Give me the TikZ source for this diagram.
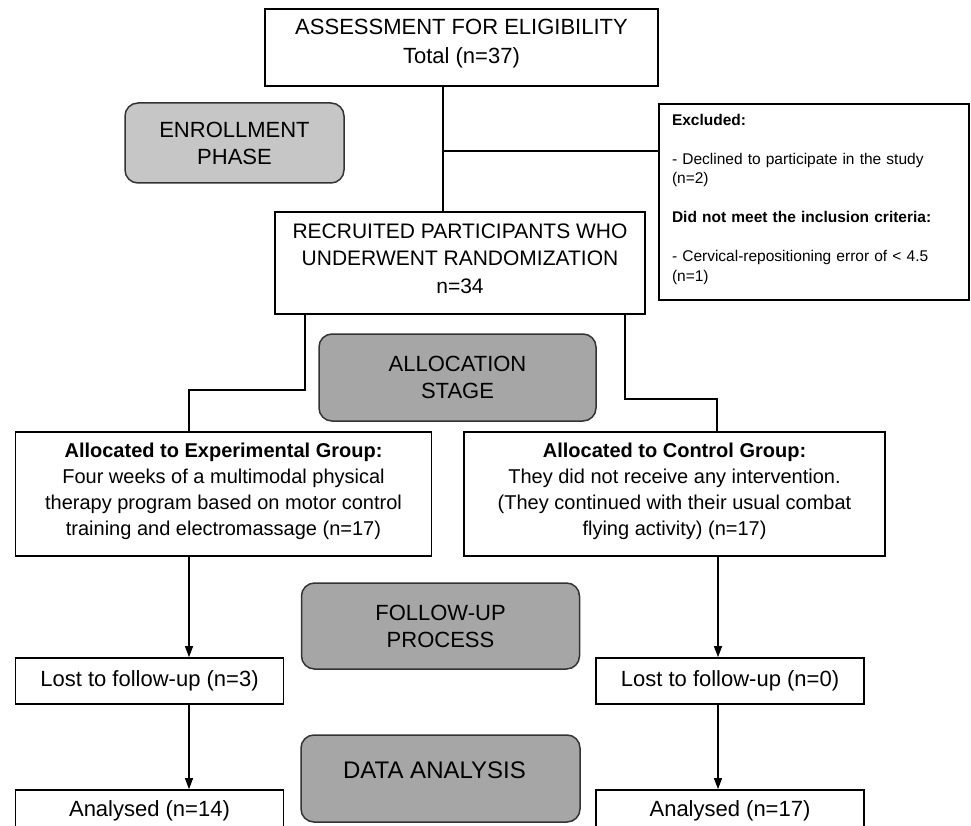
\documentclass[tikz,border=0pt]{standalone}
\usepackage{fontspec}
\setmainfont{Liberation Sans}
\usetikzlibrary{arrows.meta}
\definecolor{lightgr}{RGB}{198,198,198}
\definecolor{darkgr}{RGB}{166,166,166}
\begin{document}
\begin{tikzpicture}[x=1pt,y=-1pt,
  box/.style={draw=black, line width=1.7pt, inner sep=0pt, align=center,
    font=\fontsize{20}{26.5}\selectfont},
  big/.style={font=\fontsize{22}{27.5}\selectfont},
  txt/.style={inner sep=0pt, align=center},
  phase/.style={draw=black!80, line width=1.5pt, rounded corners=13pt, inner sep=0pt,
    align=center, fill=darkgr, font=\fontsize{22}{27}\selectfont},
  conn/.style={line width=1.2pt},
  arr/.style={line width=1.2pt, -{Triangle[length=11pt,width=8pt]}}]
\useasboundingbox (0,0) rectangle (971,826);
\clip (0,0) rectangle (971,826);
\fill[white] (0,0) rectangle (971,826);

% boxes
\node[box, minimum width=393pt, minimum height=77pt] (assess) at (461.5,47.5) {};
\node[txt, font=\fontsize{22}{29}\selectfont] (assessT) at (461.5,44)
  {ASSESSMENT FOR ELIGIBILITY\\Total (n=37)};
\node[phase, fill=lightgr, minimum width=219pt, minimum height=80pt] (enroll) at (234.5,143)
  {ENROLLMENT\\PHASE};
\node[box, line width=1.6pt, minimum width=310pt, minimum height=196pt] (excl) at (814,202) {};
\node[txt, text width=284pt, align=left, font=\fontsize{15.5}{19.5}\selectfont] (exclT) at (814,199)
  {\textbf{Excluded:}\\[19.5pt]- Declined to participate in the study\\(n=2)\\[19.5pt]
   \textbf{Did not meet the inclusion criteria:}\\[19.5pt]- Cervical-repositioning error of < 4.5\\(n=1)};
\node[box, minimum width=370pt, minimum height=102pt] (recruit) at (460,263) {};
\node[txt, font=\fontsize{21}{27.5}\selectfont] (recruitT) at (460,258.5)
  {RECRUITED PARTICIPANTS WHO\\UNDERWENT RANDOMIZATION\\n=34};
\node[phase, minimum width=277pt, minimum height=87pt] (alloc) at (457.5,377.5)
  {ALLOCATION\\STAGE};
\node[box, minimum width=416pt, minimum height=124pt] (exp) at (223.5,494) {};
\node[txt, font=\fontsize{20}{26}\selectfont] (expT) at (223.5,491.5)
  {\textbf{Allocated to Experimental Group:}\\Four weeks of a multimodal physical\\therapy program based on motor control\\training and electromassage (n=17)};
\node[box, minimum width=421pt, minimum height=124pt] (ctrl) at (674.5,494) {};
\node[txt, font=\fontsize{20}{26}\selectfont] (ctrlT) at (674.5,491.5)
  {\textbf{Allocated to Control Group:}\\They did not receive any intervention.\\(They continued with their usual combat\\flying activity) (n=17)};
\node[phase, minimum width=278pt, minimum height=86pt] (follow) at (440.5,626)
  {FOLLOW-UP\\PROCESS};
\node[box, big, minimum width=268pt, minimum height=46pt] (lost1) at (149.5,681)
  {Lost to follow-up (n=3)};
\node[box, big, minimum width=268pt, minimum height=46pt] (lost2) at (730,681)
  {Lost to follow-up (n=0)};
\node[phase, minimum width=279pt, minimum height=87pt] (data) at (440.5,778.5) {};
\node[txt, font=\fontsize{24}{28}\selectfont] (dataT) at (434.5,770) {DATA ANALYSIS};
\node[box, big, minimum width=268pt, minimum height=42pt] (an1) at (149.5,811)
  {Analysed (n=14)};
\node[box, big, minimum width=268pt, minimum height=42pt] (an2) at (730,811)
  {Analysed (n=17)};

% connectors
\coordinate (trunk) at (443,0);
\coordinate (branch) at (443,151);
\coordinate (l1) at (305,390);
\coordinate (lx) at (189,390);
\coordinate (r1) at (625,399);
\coordinate (rx) at (717,399);
\coordinate (ra) at (718,0);

\draw[conn] (assess.south -| trunk) -- (recruit.north -| trunk);
\draw[conn] (branch) -- (branch -| excl.west);
\draw[conn] (recruit.south -| l1) -- (l1) -- (lx) -- (exp.north -| lx);
\draw[conn] (recruit.south -| r1) -- (r1) -- (rx) -- (ctrl.north -| rx);
\draw[arr] (exp.south -| lx) -- (lost1.north -| lx);
\draw[arr] (ctrl.south -| ra) -- (lost2.north -| ra);
\draw[arr] (lost1.south -| lx) -- (an1.north -| lx);
\draw[arr] (lost2.south -| ra) -- (an2.north -| ra);
\end{tikzpicture}
\end{document}
